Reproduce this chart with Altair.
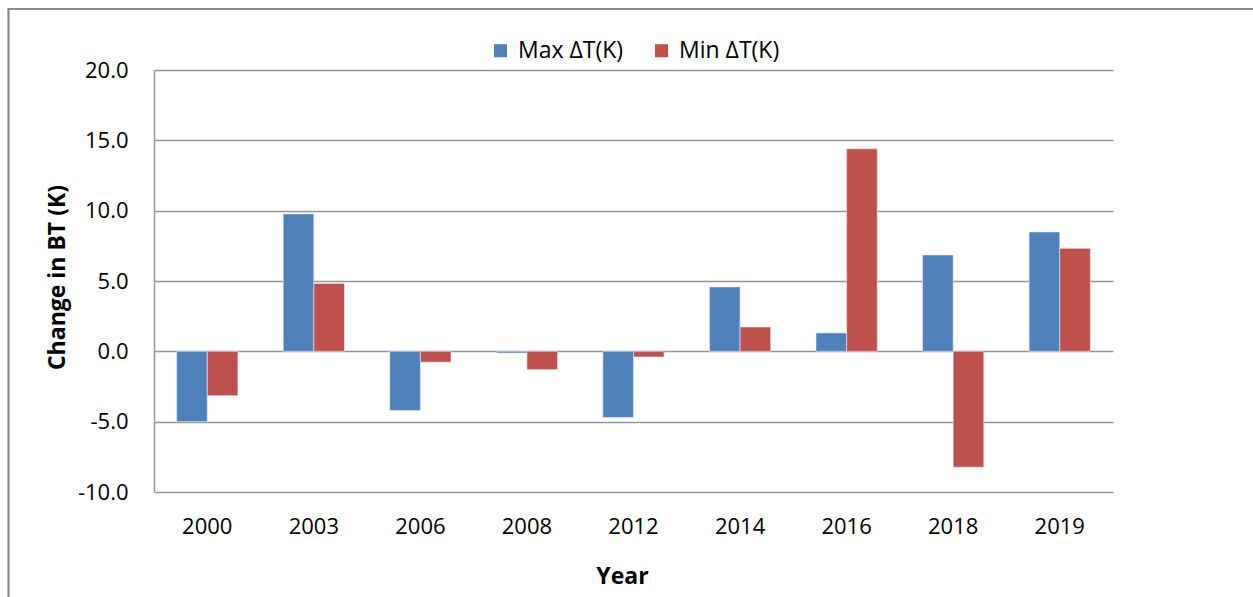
import altair as alt
import pandas as pd

# Change in brightness temperature per year
years = ["2000", "2003", "2006", "2008", "2012", "2014", "2016", "2018", "2019"]
max_dt = [-5.0, 9.77, -4.2, -0.12, -4.7, 4.58, 1.31, 6.85, 8.49]
min_dt = [-3.15, 4.83, -0.77, -1.3, -0.4, 1.73, 14.4, -8.24, 7.32]
series_names = ["Max ΔT(K)", "Min ΔT(K)"]
series_colors = ["#4F81BD", "#C0504D"]
y_ticks = [-10, -5, 0, 5, 10, 15, 20]

rows = []
for i, yr in enumerate(years):
    rows.append({"year": yr, "series": series_names[0], "value": max_dt[i]})
    rows.append({"year": yr, "series": series_names[1], "value": min_dt[i]})
df = pd.DataFrame(rows)

FONT = "Open Sans"

bars = alt.Chart(df).mark_bar(stroke="#e8eef6", strokeWidth=0.6).encode(
    x=alt.X(
        "year:N",
        sort=years,
        scale=alt.Scale(paddingInner=0.425, paddingOuter=0.2125),
        axis=alt.Axis(
            title="Year",
            labelAngle=0,
            labelFont=FONT,
            labelFontSize=22,
            labelColor="#000000",
            labelBaseline="middle",
            labelPadding=34,
            ticks=False,
            tickSize=0,
            domain=False,
            grid=False,
            titleFont=FONT,
            titleFontSize=23,
            titleFontWeight="bold",
            titleColor="#000000",
            titleX=468,
            titleY=84,
            titleBaseline="middle",
            titleAlign="center",
        ),
    ),
    xOffset=alt.XOffset(
        "series:N",
        sort=series_names,
        scale=alt.Scale(paddingInner=0, paddingOuter=0),
    ),
    y=alt.Y(
        "value:Q",
        scale=alt.Scale(domain=[-10, 20], nice=False, zero=False),
        axis=alt.Axis(
            title="Change in BT (K)",
            values=y_ticks,
            # plain hyphen for negative numbers
            labelExpr="(datum.value < 0 ? '-' : '') + format(abs(datum.value), '.1f')",
            labelFont=FONT,
            labelFontSize=22,
            labelColor="#000000",
            labelPadding=26,
            ticks=False,
            tickSize=0,
            domain=True,
            domainColor="#969696",
            domainWidth=1.5,
            grid=True,
            gridColor="#969696",
            gridWidth=1.5,
            titleFont=FONT,
            titleFontSize=23,
            titleFontWeight="bold",
            titleColor="#000000",
            titleAngle=-90,
            titleX=-97,
            titleY=207,
            titleBaseline="middle",
            titleAlign="center",
        ),
    ),
    color=alt.Color(
        "series:N",
        sort=series_names,
        scale=alt.Scale(domain=series_names, range=series_colors),
        legend=alt.Legend(
            title=None,
            orient="none",
            direction="horizontal",
            legendX=335,
            legendY=-31,
            symbolType="square",
            symbolSize=170,
            symbolStrokeWidth=0,
            labelFont=FONT,
            labelFontSize=23,
            labelColor="#000000",
            labelOffset=6,
            columnPadding=26,
        ),
    ),
)

# Outer frame of the chart (left and top edges)
frame_data = alt.Data(values=[{"k": 1}])
frame_left = alt.Chart(frame_data).mark_rule(color="#888888", strokeWidth=2.2).encode(
    x=alt.value(-145.5), y=alt.value(-61.5), y2=alt.value(600)
)
frame_top = alt.Chart(frame_data).mark_rule(color="#888888", strokeWidth=2.2).encode(
    x=alt.value(-146.5), x2=alt.value(1200), y=alt.value(-61)
)

chart = (
    alt.layer(bars, frame_left, frame_top)
    .properties(
        width=959,
        height=422,
        autosize=alt.AutoSizeParams(type="none"),
        padding={"left": 154, "top": 70, "right": 140, "bottom": 105},
        background="#ffffff",
    )
    .configure_view(stroke=None)
)

chart.save("out.html", embed_options={"renderer": "svg", "actions": False})
